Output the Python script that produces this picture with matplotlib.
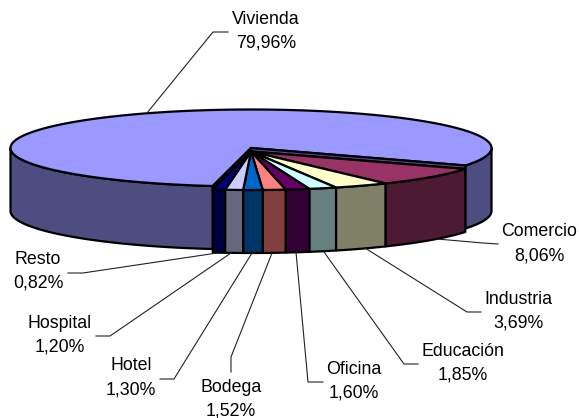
import numpy as np
import matplotlib
matplotlib.use("Agg")
import matplotlib.pyplot as plt

# ---- data ----
categories = ["Comercio", "Industria", "Educación", "Oficina", "Bodega",
              "Hotel", "Hospital", "Resto", "Vivienda"]
values = [8.06, 3.69, 1.85, 1.60, 1.52, 1.30, 1.20, 0.82, 79.96]
value_labels = ["8,06%", "3,69%", "1,85%", "1,60%", "1,52%",
                "1,30%", "1,20%", "0,82%", "79,96%"]

# ---- styles ----
top_colors = ["#993366", "#FFFFCC", "#CCFFFF", "#660066", "#FF8080",
              "#0066CC", "#CCCCFF", "#000080", "#9999FF"]
side_colors = ["#4D1A33", "#808066", "#668080", "#330033", "#804040",
               "#003366", "#666680", "#000040", "#4D4D80"]

# ---- layout (pixels) ----
W, H = 579, 418
CX, RX, RY, DEPTH = 251, 240.5, 38.5, 63
CY_MAIN, CY_GROUP = 148, 151.5
START = 27.0
LW = 1.6
label_pos = [(539, 232, 256), (518, 299, 323), (463, 352, 375), (354, 369, 393),
             (231, 387, 411), (131, 366, 390), (60, 323, 347), (38, 260, 283),
             (266, 19, 43)]
leaders = [
    [(498, 244), (483, 243), (437, 239)],
    [(481, 312), (467, 312), (365, 248)],
    [(418, 364), (404, 364), (324, 252)],
    [(323, 382), (308, 382), (296, 252)],
    [(231, 372), (231, 357), (272, 253)],
    [(160, 379), (174, 379), (252, 253)],
    [(96, 336), (110, 336), (231, 253)],
    [(68, 273), (83, 273), (217, 253)],
    [(228, 32), (213, 32), (147, 113)],
]

fig = plt.figure(figsize=(W / 100, H / 100), dpi=100, facecolor="white")
ax = fig.add_axes([0, 0, 1, 1])
ax.set_xlim(0, W)
ax.set_ylim(H, 0)
ax.axis("off")


def arc(a0, a1, cy):
    t = np.radians(np.linspace(a0, a1, max(int(abs(a1 - a0) * 2), 2)))
    return np.column_stack([CX + RX * np.cos(t), cy + RY * np.sin(t)])


def wall(a0, a1, cy, color, z):
    top = arc(a0, a1, cy)
    bottom = top[::-1] + [0, DEPTH]
    ax.fill(*np.vstack([top, bottom]).T, fc=color, ec="black", lw=LW,
            joinstyle="round", zorder=z)


def wedge(a0, a1, cy, color, z):
    apex = [[CX, cy]]
    ax.fill(*np.vstack([apex, arc(a0, a1, cy)]).T, fc=color, ec="black", lw=LW,
            joinstyle="round", zorder=z)


angles = np.concatenate([[0], np.cumsum(values)]) * 3.6 + START
group_end = angles[8]

# main slice (Vivienda): visible walls, then top
wall(group_end, 180, CY_MAIN, side_colors[8], 1)
wall(0, START, CY_MAIN, side_colors[8], 1)
wedge(group_end, START + 360, CY_MAIN, top_colors[8], 2)

# cut faces between main slice and the rest of the pie
for a in (START, group_end):
    p0 = arc(a, a, CY_MAIN)[0]
    p1 = arc(a, a, CY_GROUP)[0]
    ax.fill([CX, p0[0], p1[0], CX], [CY_MAIN, p0[1], p1[1], CY_GROUP],
            fc=side_colors[8], ec="black", lw=LW, zorder=3)

# the other slices
for i in range(8):
    wall(angles[i], angles[i + 1], CY_GROUP, side_colors[i], 4)
for i in range(8):
    wedge(angles[i], angles[i + 1], CY_GROUP, top_colors[i], 5)

# leader lines and labels
for pts in leaders:
    xs, ys = zip(*pts)
    ax.plot(xs, ys, color="#222222", lw=0.8, zorder=6)

for name, val, (x, y1, y2) in zip(categories, value_labels, label_pos):
    for s, y in ((name, y1), (val, y2)):
        ax.text(x, y, s, ha="center", va="center", fontsize=12.8,
                family="Liberation Sans", color="black", zorder=7)

fig.savefig("out.png", dpi=100, facecolor="white")
